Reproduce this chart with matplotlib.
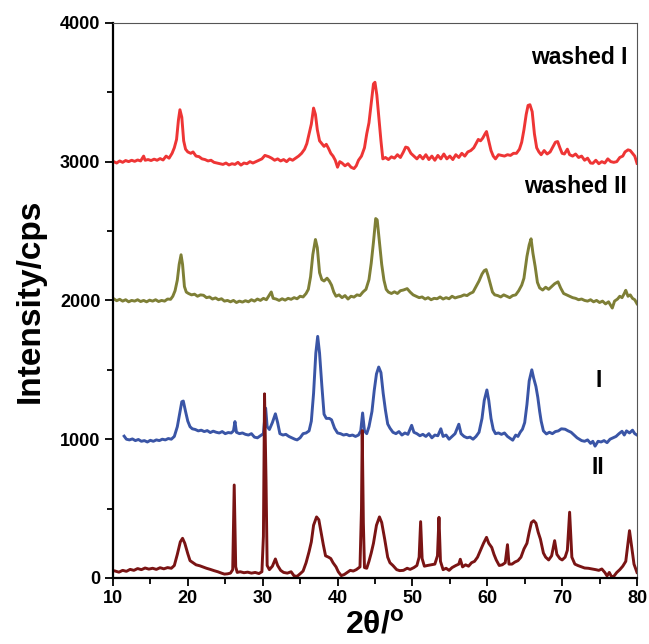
import matplotlib
matplotlib.use("Agg")
import matplotlib.pyplot as plt
from matplotlib.ticker import MultipleLocator

plt.rcParams['font.family'] = ['Liberation Sans', 'DejaVu Sans']
plt.rcParams['mathtext.fontset'] = 'custom'
plt.rcParams['mathtext.rm'] = 'Liberation Sans'
plt.rcParams['mathtext.bf'] = 'Liberation Sans:bold'

# --- diffraction patterns (2theta in degrees, intensity in cps) ---
ii_2theta = [10.3, 10.8, 11.3, 11.8, 12.3, 12.8, 13.3, 13.8, 14.3, 14.8, 15.3, 15.8, 16.3, 16.8, 17.3, 17.8,
             18.2, 18.6, 19.0, 19.3, 19.6, 20.0, 20.3, 20.7, 21.1, 21.6, 22.0, 22.5, 23.0, 23.5, 24.0, 24.5,
             24.9, 25.3, 25.7, 26.0, 26.2, 26.4, 26.6, 27.0, 27.5, 28.0, 28.5, 29.0, 29.5, 29.9, 30.1, 30.25,
             30.45, 30.6, 30.9, 31.3, 31.7, 32.0, 32.4, 32.8, 33.3, 33.8, 34.2, 34.6, 35.0, 35.4, 35.8, 36.2,
             36.5, 36.8, 37.2, 37.5, 37.8, 38.1, 38.4, 38.8, 39.1, 39.4, 39.8, 40.1, 40.5, 40.9, 41.3, 41.7,
             42.1, 42.5, 43.0, 43.2, 43.3, 43.45, 43.6, 43.9, 44.2, 44.5, 44.8, 45.2, 45.6, 45.9, 46.3, 46.7,
             47.0, 47.4, 47.9, 48.3, 48.8, 49.3, 49.7, 50.2, 50.6, 50.9, 51.1, 51.3, 51.6, 52.0, 52.5, 53.0,
             53.35, 53.55, 53.75, 54.1, 54.5, 54.9, 55.3, 55.8, 56.2, 56.4, 56.7, 57.1, 57.5, 57.9, 58.3, 58.7,
             59.1, 59.5, 59.9, 60.2, 60.6, 60.9, 61.2, 61.6, 62.0, 62.4, 62.7, 62.9, 63.3, 63.7, 64.1, 64.5,
             64.9, 65.3, 65.6, 65.9, 66.2, 66.5, 66.8, 67.1, 67.5, 67.8, 68.2, 68.6, 69.0, 69.3, 69.7, 70.0,
             70.4, 70.7, 71.0, 71.3, 71.7, 72.1, 72.6, 73.0, 73.5, 74.0, 74.5, 74.9, 75.3, 75.7, 76.0, 76.3,
             76.6, 76.9, 77.3, 77.7, 78.1, 78.5, 78.8, 79.0, 79.3, 79.6, 80.0]
ii_counts = [50, 42, 55, 48, 62, 55, 68, 60, 72, 64, 70, 62, 74, 66, 75, 70,
             90, 170, 260, 286, 250, 175, 125, 110, 95, 88, 80, 70, 62, 53, 45, 35,
             28, 30, 35, 60, 670, 80, 40, 45, 38, 42, 35, 40, 32, 45, 300, 1327,
             700, 90, 60, 85, 137, 90, 55, 40, 35, 45, 15, 12, 30, 50, 110, 190,
             260, 380, 440, 420, 330, 240, 160, 150, 140, 110, 80, 45, 17, 25, 40, 55,
             50, 60, 80, 500, 1062, 400, 75, 70, 120, 180, 250, 380, 440, 400, 280, 150,
             110, 90, 60, 53, 55, 70, 62, 75, 90, 150, 406, 140, 85, 90, 95, 100,
             160, 437, 120, 60, 70, 55, 75, 90, 100, 135, 80, 95, 85, 110, 120, 150,
             200, 250, 293, 250, 220, 170, 130, 90, 95, 110, 240, 100, 100, 115, 125, 150,
             209, 250, 330, 400, 413, 395, 330, 280, 180, 150, 130, 160, 269, 170, 140, 130,
             150, 200, 474, 150, 100, 90, 80, 72, 70, 65, 60, 55, 65, 40, 15, 40,
             10, 12, 40, 60, 85, 120, 250, 341, 220, 100, 40]

i_2theta = [11.5, 11.8, 12.2, 12.6, 13.0, 13.4, 13.8, 14.2, 14.6, 15.0, 15.4, 15.8, 16.2, 16.6, 17.0, 17.4,
            17.8, 18.2, 18.6, 18.9, 19.2, 19.4, 19.7, 20.0, 20.3, 20.6, 21.0, 21.4, 21.8, 22.2, 22.6, 23.0,
            23.4, 23.8, 24.2, 24.6, 25.0, 25.4, 25.8, 26.1, 26.3, 26.5, 26.9, 27.3, 27.7, 28.1, 28.5, 28.9,
            29.3, 29.7, 30.1, 30.4, 30.6, 30.9, 31.3, 31.7, 32.0, 32.3, 32.7, 33.1, 33.5, 33.9, 34.3, 34.6,
            35.0, 35.4, 35.8, 36.2, 36.5, 36.8, 37.1, 37.35, 37.6, 37.9, 38.2, 38.5, 38.9, 39.2, 39.6, 40.0,
            40.4, 40.8, 41.2, 41.6, 42.0, 42.4, 42.8, 43.1, 43.35, 43.6, 43.9, 44.2, 44.6, 44.9, 45.2, 45.5,
            45.8, 46.1, 46.4, 46.7, 47.0, 47.4, 47.8, 48.2, 48.6, 49.0, 49.4, 49.9, 50.2, 50.6, 51.0, 51.4,
            51.8, 52.2, 52.6, 53.0, 53.4, 53.8, 54.1, 54.5, 54.9, 55.3, 55.7, 56.0, 56.2, 56.5, 56.9, 57.3,
            57.7, 58.1, 58.5, 58.9, 59.3, 59.6, 59.95, 60.2, 60.5, 60.8, 61.1, 61.5, 61.9, 62.3, 62.7, 63.1,
            63.4, 63.8, 64.1, 64.4, 64.7, 65.0, 65.3, 65.6, 65.95, 66.2, 66.5, 66.75, 67.0, 67.2, 67.5, 67.9,
            68.3, 68.7, 69.1, 69.5, 69.9, 70.4, 70.8, 71.2, 71.6, 72.0, 72.3, 72.6, 73.0, 73.4, 73.8, 74.1,
            74.4, 74.8, 75.2, 75.6, 76.0, 76.4, 76.8, 77.2, 77.6, 78.0, 78.3, 78.6, 79.0, 79.4, 79.7, 80.0]
i_counts = [1022, 1000, 995, 1002, 990, 998, 985, 990, 980, 992, 985, 995, 990, 1000, 995, 1005,
            1000, 1020, 1090, 1180, 1270, 1275, 1200, 1130, 1090, 1075, 1070, 1060, 1065, 1055, 1062, 1048,
            1058, 1050, 1045, 1055, 1040, 1048, 1045, 1060, 1127, 1050, 1040, 1045, 1035, 1030, 1040, 1015,
            1010, 1025, 1040, 1224, 1090, 1070, 1120, 1183, 1120, 1040, 1030, 1035, 1020, 1010, 1000, 995,
            1010, 1040, 1045, 1060, 1130, 1330, 1620, 1741, 1620, 1390, 1180, 1150, 1150, 1140, 1080, 1045,
            1040, 1030, 1035, 1025, 1030, 1020, 1030, 1060, 1189, 1060, 1040, 1090, 1200, 1350, 1470, 1520,
            1480, 1330, 1209, 1110, 1080, 1050, 1040, 1055, 1030, 1045, 1035, 1100, 1050, 1040, 1025, 1035,
            1020, 1040, 1010, 1030, 1025, 1075, 1020, 1030, 1000, 1020, 1040, 1080, 1108, 1040, 1020, 1010,
            1015, 1000, 1020, 1050, 1150, 1280, 1355, 1280, 1150, 1070, 1040, 1045, 1035, 1045, 1020, 1005,
            993, 1030, 1020, 1050, 1072, 1120, 1250, 1420, 1500, 1440, 1380, 1302, 1200, 1130, 1060, 1038,
            1050, 1040, 1055, 1060, 1075, 1072, 1060, 1050, 1030, 1010, 1000, 990, 985, 995, 970, 985,
            950, 985, 980, 990, 975, 1000, 1010, 1020, 1040, 1057, 1030, 1060, 1045, 1065, 1040, 1030]

wii_2theta = [10.1, 10.5, 10.9, 11.3, 11.7, 12.1, 12.5, 12.9, 13.3, 13.7, 14.1, 14.5, 14.9, 15.3, 15.7, 16.1,
              16.5, 16.9, 17.3, 17.7, 18.0, 18.3, 18.6, 18.85, 19.1, 19.3, 19.55, 19.8, 20.1, 20.5, 20.9, 21.3,
              21.7, 22.1, 22.5, 22.9, 23.3, 23.7, 24.1, 24.5, 24.9, 25.3, 25.7, 26.1, 26.5, 26.9, 27.3, 27.7,
              28.1, 28.5, 28.9, 29.3, 29.7, 30.1, 30.5, 30.9, 31.15, 31.4, 31.8, 32.2, 32.6, 33.0, 33.4, 33.8,
              34.2, 34.6, 35.0, 35.4, 35.8, 36.1, 36.4, 36.7, 37.05, 37.3, 37.6, 37.9, 38.2, 38.6, 38.9, 39.2,
              39.5, 39.8, 40.2, 40.6, 41.0, 41.4, 41.8, 42.2, 42.6, 43.0, 43.4, 43.8, 44.2, 44.5, 44.8, 45.1,
              45.3, 45.6, 45.9, 46.2, 46.5, 46.8, 47.2, 47.6, 48.0, 48.4, 48.8, 49.3, 49.7, 50.1, 50.5, 50.9,
              51.3, 51.7, 52.1, 52.5, 52.9, 53.3, 53.7, 54.1, 54.5, 54.9, 55.3, 55.7, 56.1, 56.5, 56.9, 57.3,
              57.7, 58.1, 58.5, 58.9, 59.3, 59.6, 59.85, 60.1, 60.4, 60.7, 61.0, 61.4, 61.8, 62.2, 62.6, 63.0,
              63.4, 63.8, 64.2, 64.6, 64.9, 65.3, 65.6, 65.85, 66.1, 66.4, 66.7, 67.0, 67.4, 67.8, 68.2, 68.6,
              69.0, 69.45, 69.8, 70.2, 70.6, 71.0, 71.4, 71.8, 72.2, 72.6, 73.0, 73.4, 73.8, 74.2, 74.6, 75.0,
              75.4, 75.8, 76.2, 76.7, 77.0, 77.4, 77.7, 78.0, 78.3, 78.5, 78.8, 79.1, 79.4, 79.7, 80.0]
wii_counts = [2012, 1998, 2008, 1995, 2005, 1990, 2000, 1995, 2005, 1992, 2000, 1990, 2002, 1995, 2005, 1992,
              2000, 1995, 2010, 2008, 2030, 2070, 2146, 2260, 2329, 2260, 2100, 2060, 2050, 2040, 2045, 2030,
              2040, 2037, 2020, 2025, 2010, 2018, 2005, 2012, 1995, 2000, 1990, 2000, 1985, 1995, 1988, 1998,
              1990, 2005, 1995, 2010, 2000, 2015, 2005, 2040, 2061, 2015, 2010, 2000, 2012, 2002, 2015, 2008,
              2020, 2012, 2030, 2025, 2050, 2080, 2171, 2330, 2439, 2380, 2200, 2150, 2140, 2160, 2140, 2110,
              2060, 2030, 2040, 2020, 2035, 2010, 2030, 2024, 2040, 2035, 2061, 2080, 2150, 2268, 2420, 2590,
              2580, 2420, 2260, 2146, 2080, 2060, 2050, 2062, 2050, 2070, 2075, 2085, 2060, 2040, 2030, 2020,
              2025, 2010, 2020, 2005, 2015, 2012, 2025, 2010, 2020, 2012, 2030, 2018, 2025, 2030, 2040, 2035,
              2050, 2060, 2100, 2140, 2190, 2215, 2222, 2180, 2120, 2060, 2040, 2035, 2025, 2040, 2030, 2020,
              2035, 2040, 2070, 2110, 2160, 2317, 2400, 2444, 2340, 2244, 2130, 2090, 2075, 2095, 2080, 2100,
              2120, 2134, 2090, 2050, 2040, 2030, 2020, 2015, 2005, 2010, 2000, 1995, 2005, 1990, 2000, 1985,
              1995, 1975, 1990, 1945, 1995, 2010, 2030, 2020, 2050, 2073, 2030, 2040, 2015, 2005, 1976]

wi_2theta = [10.1, 10.5, 10.9, 11.3, 11.7, 12.1, 12.5, 12.9, 13.3, 13.7, 14.1, 14.3, 14.7, 15.1, 15.5, 15.9,
             16.3, 16.7, 17.1, 17.5, 17.9, 18.2, 18.5, 18.75, 18.95, 19.2, 19.45, 19.7, 20.0, 20.4, 20.7, 21.1,
             21.5, 21.9, 22.3, 22.7, 23.1, 23.5, 23.9, 24.3, 24.7, 25.1, 25.5, 25.9, 26.3, 26.7, 27.1, 27.5,
             27.9, 28.3, 28.7, 29.1, 29.5, 29.9, 30.3, 30.8, 31.2, 31.6, 32.0, 32.4, 32.8, 33.2, 33.6, 34.0,
             34.4, 34.8, 35.2, 35.6, 35.9, 36.2, 36.5, 36.8, 37.05, 37.3, 37.6, 37.9, 38.2, 38.5, 38.8, 39.1,
             39.4, 39.7, 40.0, 40.3, 40.6, 41.0, 41.4, 41.8, 42.2, 42.5, 42.8, 43.2, 43.6, 43.9, 44.2, 44.5,
             44.8, 45.0, 45.25, 45.5, 45.8, 46.05, 46.4, 46.8, 47.2, 47.6, 48.0, 48.4, 48.8, 49.1, 49.4, 49.8,
             50.2, 50.6, 51.0, 51.4, 51.8, 52.2, 52.6, 53.0, 53.4, 53.8, 54.2, 54.6, 55.0, 55.4, 55.8, 56.2,
             56.6, 57.0, 57.4, 57.8, 58.2, 58.5, 58.8, 59.1, 59.4, 59.7, 59.9, 60.2, 60.5, 60.8, 61.1, 61.5,
             61.9, 62.3, 62.7, 63.1, 63.5, 63.9, 64.3, 64.6, 64.9, 65.2, 65.45, 65.7, 66.0, 66.3, 66.6, 66.9,
             67.2, 67.6, 68.0, 68.4, 68.8, 69.1, 69.4, 69.7, 70.0, 70.3, 70.7, 71.0, 71.4, 71.8, 72.2, 72.6,
             73.0, 73.4, 73.8, 74.1, 74.5, 74.9, 75.3, 75.7, 76.1, 76.5, 76.9, 77.3, 77.7, 78.1, 78.4, 78.8,
             79.1, 79.4, 79.7, 80.0]
wi_counts = [3000, 2990, 3005, 2995, 3008, 3000, 3010, 3002, 3012, 3005, 3040, 3010, 3015, 3008, 3018, 3010,
             3022, 3012, 3040, 3025, 3060, 3100, 3160, 3300, 3374, 3320, 3150, 3090, 3070, 3060, 3070, 3040,
             3036, 3020, 3015, 3005, 3010, 2995, 2990, 2985, 2980, 2990, 2976, 2985, 2980, 2995, 2975, 2990,
             2985, 3000, 2990, 3000, 3010, 3020, 3045, 3036, 3025, 3010, 3020, 3005, 3015, 3000, 3020, 3010,
             3025, 3040, 3060, 3090, 3130, 3200, 3270, 3386, 3340, 3230, 3150, 3130, 3110, 3125, 3095, 3060,
             3040, 3010, 2960, 3000, 2990, 2970, 2985, 2960, 2950, 2970, 3010, 3040, 3100, 3200, 3280, 3420,
             3560, 3572, 3480, 3330, 3150, 3020, 3030, 3015, 3035, 3025, 3050, 3030, 3070, 3105, 3100, 3060,
             3040, 3020, 3045, 3020, 3050, 3015, 3040, 3010, 3045, 3020, 3055, 3020, 3040, 3015, 3050, 3030,
             3060, 3040, 3070, 3080, 3100, 3130, 3160, 3150, 3170, 3200, 3217, 3150, 3080, 3040, 3020, 3050,
             3045, 3040, 3050, 3045, 3060, 3060, 3090, 3140, 3230, 3340, 3405, 3410, 3360, 3200, 3100, 3070,
             3050, 3080, 3055, 3070, 3110, 3140, 3145, 3100, 3060, 3055, 3090, 3050, 3040, 3055, 3030, 3040,
             3010, 3025, 2990, 2988, 3010, 2985, 3000, 2990, 3020, 3000, 2995, 3000, 3030, 3040, 3070, 3085,
             3080, 3060, 3040, 2988]

series_labels = ["washed I", "washed II", "I", "II"]
series_colors = ["#EE3535", "#7E7F36", "#3A55A6", "#7A1414"]

fig = plt.figure(figsize=(6.49, 6.44), dpi=100)
ax = fig.add_axes([0.174, 0.1025, 0.8075, 0.862])

for xs, ys, c in zip([wi_2theta, wii_2theta, i_2theta, ii_2theta],
                     [wi_counts, wii_counts, i_counts, ii_counts],
                     series_colors):
    ax.plot(xs, ys, color=c, lw=2.1, solid_joinstyle='round')

ax.set_xlim(10, 80)
ax.set_ylim(0, 4000)
ax.xaxis.set_major_locator(MultipleLocator(10))
ax.xaxis.set_minor_locator(MultipleLocator(5))
ax.yaxis.set_major_locator(MultipleLocator(1000))
ax.yaxis.set_minor_locator(MultipleLocator(500))

for side in ("left", "bottom"):
    ax.spines[side].set_linewidth(1.6)
    ax.spines[side].set_color("black")
for side in ("top", "right"):
    ax.spines[side].set_linewidth(0.8)
    ax.spines[side].set_color("#555555")

ax.tick_params(which="both", direction="out", top=False, right=False, width=1.3)
ax.tick_params(which="major", length=6, labelsize=13, pad=3)
ax.tick_params(which="minor", length=4)
for lab in ax.get_xticklabels() + ax.get_yticklabels():
    lab.set_fontweight("bold")

ax.set_ylabel("Intensity/cps", fontsize=24, fontweight="bold", labelpad=10)
ax.set_xlabel(r"2θ/$^{\mathbf{o}}$", fontsize=23, fontweight="bold", labelpad=2)

label_pos = [(78.7, 3748), (78.7, 2820), (75.3, 1424), (75.6, 799)]
for (lx, ly), txt in zip(label_pos, series_labels):
    ax.text(lx, ly, txt, ha="right", va="center", fontsize=16.5, fontweight="bold")

fig.savefig("out.png", dpi=100)
